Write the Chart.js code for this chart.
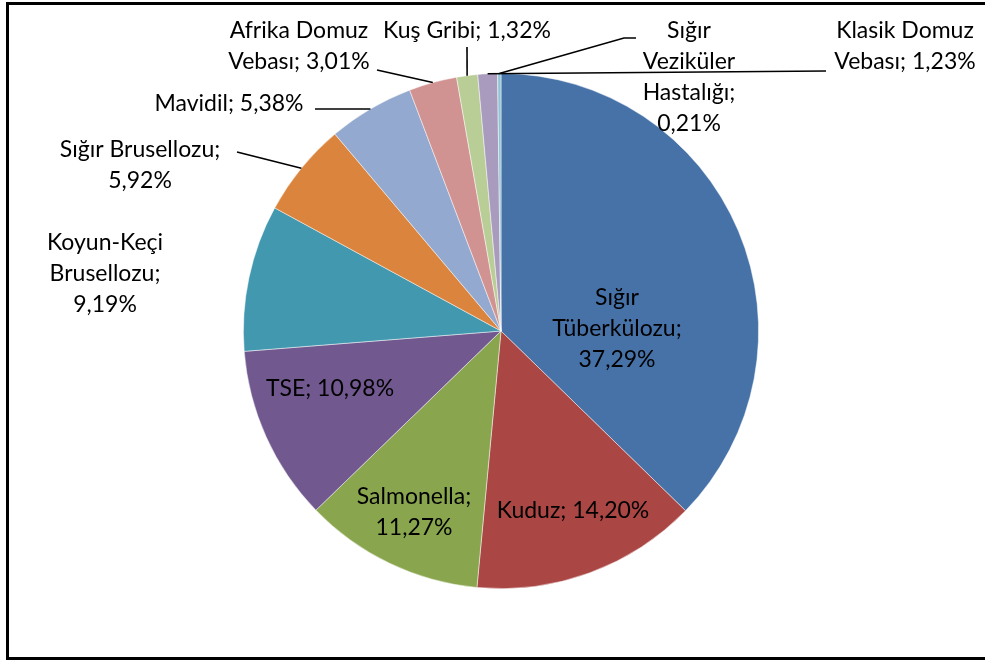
<!DOCTYPE html>
<html lang="tr">
<head>
    <meta charset="UTF-8">
    <title>Hastalık Dağılımı</title>
    <script src="https://cdn.jsdelivr.net/npm/chart.js"></script>
    <style>
        html, body { margin: 0; padding: 0; background: #fff; }
        #wrap { position: relative; width: 985px; height: 660px; overflow: hidden; }
    </style>
</head>
<body>
    <div id="wrap">
        <canvas id="pie-chart" width="985" height="660"></canvas>
    </div>

    <script>
        // data
        var diseases = ['Sığır Tüberkülozu', 'Kuduz', 'Salmonella', 'TSE', 'Koyun-Keçi Brusellozu',
            'Sığır Brusellozu', 'Mavidil', 'Afrika Domuz Vebası', 'Kuş Gribi',
            'Klasik Domuz Vebası', 'Sığır Veziküler Hastalığı'];
        var shares = [37.29, 14.20, 11.27, 10.98, 9.19, 5.92, 5.38, 3.01, 1.32, 1.23, 0.21];

        var sliceColors = ['#4672a8', '#aa4644', '#89a54e', '#71588f', '#4198af', '#db843d',
            '#93a9cf', '#d19392', '#b9cd96', '#a99bbd', '#92c5d3'];

        // label layout: words per line, text centre (x, y of first line), leader end points
        var labelLayout = [
            { lines: [1, 1, 1], x: 617, y: 298, end: null },
            { lines: [2], x: 573, y: 511, end: null },
            { lines: [1, 1], x: 414, y: 497, end: null },
            { lines: [2], x: 330, y: 389, end: null },
            { lines: [1, 1, 1], x: 105, y: 243, end: null },
            { lines: [2, 1], x: 140, y: 150, end: [[237, 152]] },
            { lines: [2], x: 229, y: 104, end: [[315, 109]] },
            { lines: [2, 2], x: 299, y: 31, end: [[377, 70]] },
            { lines: [3], x: 467, y: 31, end: [[467, 47]] },
            { lines: [2, 2], x: 905, y: 31, end: [[826, 71]] },
            { lines: [1, 1, 1, 1], x: 689, y: 31, end: [[624, 38], [636, 38]] }
        ];

        var lineGap = 31;
        var labelFont = '23px Lato';

        function fmt(v) {
            return v.toFixed(2).replace('.', ',') + '%';
        }

        var pieLabels = {
            id: 'pieLabels',
            afterDatasetsDraw: function(chart) {
                var ctx = chart.ctx;
                var meta = chart.getDatasetMeta(0);
                ctx.save();
                ctx.font = labelFont;
                ctx.fillStyle = '#000';
                ctx.strokeStyle = '#000';
                ctx.lineWidth = 1.6;
                ctx.textAlign = 'center';
                ctx.textBaseline = 'middle';
                meta.data.forEach(function(arc, i) {
                    var lay = labelLayout[i];
                    var words = (diseases[i] + '; ' + fmt(shares[i])).split(' ');
                    var k = 0;
                    lay.lines.forEach(function(n, j) {
                        ctx.fillText(words.slice(k, k + n).join(' '), lay.x, lay.y + j * lineGap);
                        k += n;
                    });
                    if (lay.end) {
                        // leader starts on the slice edge at its mid angle
                        var p = arc.getProps(['x', 'y', 'startAngle', 'endAngle', 'outerRadius'], true);
                        var mid = (p.startAngle + p.endAngle) / 2;
                        ctx.beginPath();
                        ctx.moveTo(p.x + Math.cos(mid) * p.outerRadius, p.y + Math.sin(mid) * p.outerRadius);
                        lay.end.forEach(function(pt) { ctx.lineTo(pt[0], pt[1]); });
                        ctx.stroke();
                    }
                });
                ctx.restore();
            }
        };

        var frame = {
            id: 'frame',
            afterDraw: function(chart) {
                var ctx = chart.ctx;
                ctx.save();
                ctx.strokeStyle = '#000';
                ctx.lineWidth = 3;
                ctx.beginPath();
                ctx.moveTo(990, 3.5);
                ctx.lineTo(7.5, 3.5);
                ctx.lineTo(7.5, 658.5);
                ctx.lineTo(990, 658.5);
                ctx.stroke();
                ctx.restore();
            }
        };

        var ctx = document.getElementById('pie-chart').getContext('2d');
        var pieChart = new Chart(ctx, {
            type: 'pie',
            data: {
                labels: diseases,
                datasets: [{
                    data: shares,
                    backgroundColor: sliceColors,
                    borderColor: 'rgba(255,255,255,0.6)',
                    borderWidth: 0.8
                }]
            },
            options: {
                responsive: false,
                animation: false,
                layout: { padding: { left: 243, right: 226, top: 72, bottom: 70 } },
                plugins: {
                    legend: { display: false },
                    tooltip: { enabled: false }
                }
            },
            plugins: [pieLabels, frame]
        });
    </script>
</body>
</html>
